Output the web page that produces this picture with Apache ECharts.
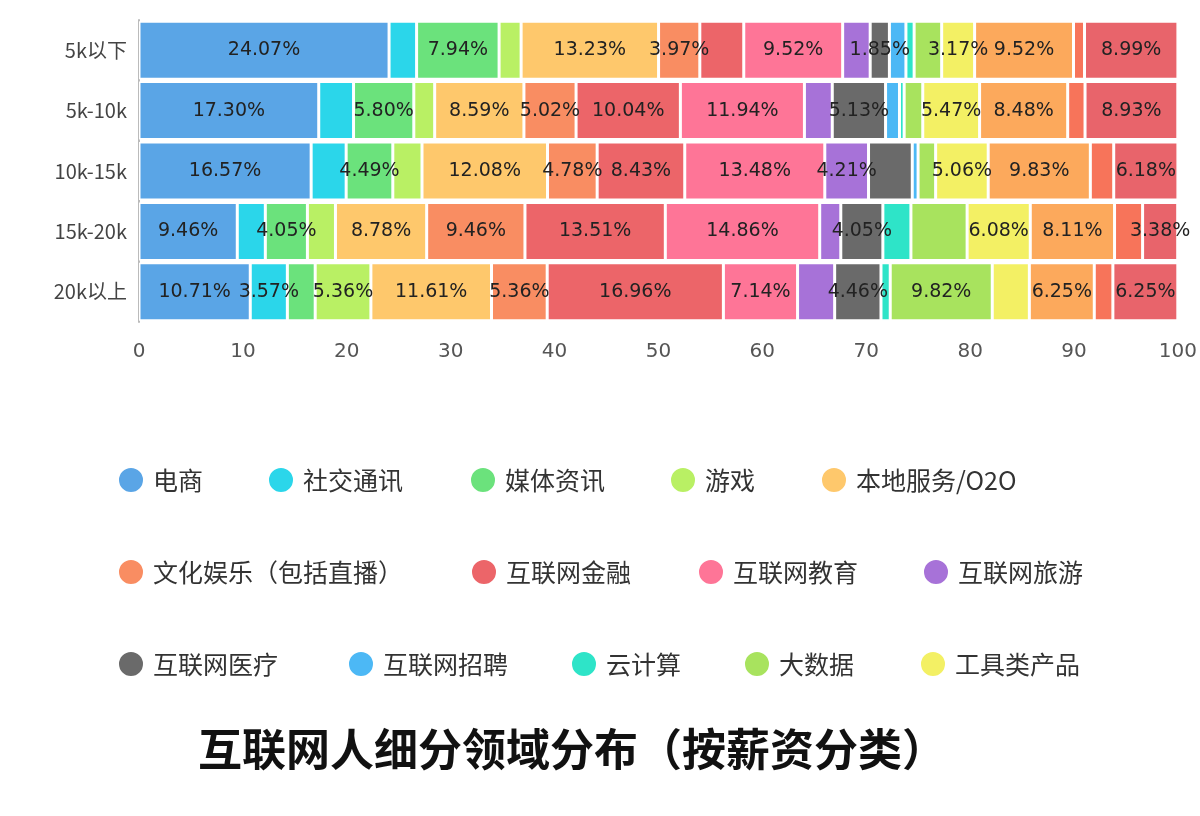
<!DOCTYPE html>
<html>
<head>
<meta charset="utf-8">
<script src="https://cdn.jsdelivr.net/npm/echarts@6/dist/echarts.min.js"></script>
<style>
  html, body { margin: 0; padding: 0; background: #fff; }
  #chart { width: 1200px; height: 816px; }
</style>
</head>
<body>
<div id="chart"></div>
<script>
"use strict";

var categories = ['5k以下', '5k-10k', '10k-15k', '15k-20k', '20k以上'];
var xTicks = [0, 10, 20, 30, 40, 50, 60, 70, 80, 90, 100];

var seriesNames = ['电商', '社交通讯', '媒体资讯', '游戏', '本地服务/O2O', '文化娱乐（包括直播）',
  '互联网金融', '互联网教育', '互联网旅游', '互联网医疗', '互联网招聘', '云计算', '大数据', '工具类产品',
  '其他1', '其他2', '其他3'];

var ecommerce = [24.07, 17.30, 16.57, 9.46, 10.71];
var social = [2.65, 3.35, 3.37, 2.70, 3.57];
var media = [7.94, 5.80, 4.49, 4.05, 2.68];
var games = [2.12, 2.01, 2.81, 2.70, 5.36];
var localO2O = [13.23, 8.59, 12.08, 8.78, 11.61];
var culture = [3.97, 5.02, 4.78, 9.46, 5.36];
var finance = [4.23, 10.04, 8.43, 13.51, 16.96];
var education = [9.52, 11.94, 13.48, 14.86, 7.14];
var travel = [2.65, 2.68, 4.21, 2.03, 3.57];
var medical = [1.85, 5.13, 4.21, 4.05, 4.46];
var recruit = [1.59, 1.34, 0.56, 0, 0];
var cloud = [0.79, 0.45, 0, 2.70, 0.89];
var bigData = [2.65, 1.79, 1.69, 5.41, 9.82];
var tools = [3.17, 5.47, 5.06, 6.08, 3.57];
var otherA = [9.52, 8.48, 9.83, 8.11, 6.25];
var otherB = [1.06, 1.67, 2.25, 2.70, 1.79];
var otherC = [8.99, 8.93, 6.18, 3.38, 6.25];

// which series carry a visible label, per row
var labelledSeries = [
  [0, 2, 4, 5, 7, 9, 13, 14, 16],
  [0, 2, 4, 5, 6, 7, 9, 13, 14, 16],
  [0, 2, 4, 5, 6, 7, 8, 13, 14, 16],
  [0, 2, 4, 5, 6, 7, 9, 13, 14, 16],
  [0, 1, 3, 4, 5, 6, 7, 9, 12, 14, 16]
];

var allValues = [ecommerce, social, media, games, localO2O, culture, finance, education,
  travel, medical, recruit, cloud, bigData, tools, otherA, otherB, otherC];

var colors = ['#5aa5e6', '#2bd6ea', '#6be27c', '#b9f064', '#fec86c', '#f98d62', '#ec6569',
  '#fe7597', '#a772d8', '#6a6a6a', '#4cb8f5', '#2ee4c8', '#a8e35e', '#f3f064',
  '#fca95c', '#f7745a', '#e8646b'];

var legendPos = [
  [112, 461], [262, 461], [464, 461], [664, 461], [815, 461],
  [112, 553], [465, 553], [692, 553], [917, 553],
  [112, 645], [342, 645], [565, 645], [738, 645], [914, 645]
];

var series = [];
for (var i = 0; i < allValues.length; i++) {
  (function(si) {
    series.push({
      name: seriesNames[si],
      type: 'bar',
      stack: 'total',
      barCategoryGap: '4%',
      itemStyle: { color: colors[si], borderColor: '#fff', borderWidth: 1.5 },
      label: {
        show: true,
        position: 'inside',
        color: '#222',
        fontSize: 19,
        padding: [4, 0, 0, 0],
        fontFamily: 'DejaVu Sans, sans-serif',
        formatter: function(p) {
          if (labelledSeries[p.dataIndex].indexOf(si) < 0) return '';
          return p.value.toFixed(2) + '%';
        }
      },
      data: allValues[si]
    });
  })(i);
}

var legends = [];
for (var j = 0; j < 14; j++) {
  legends.push({
    data: [seriesNames[j]],
    left: legendPos[j][0],
    top: legendPos[j][1],
    icon: 'circle',
    itemWidth: 26,
    itemHeight: 26,
    itemGap: 0,
    selectedMode: false,
    textStyle: { fontSize: 25, color: '#333', fontFamily: 'Noto Sans CJK SC', padding: [0, 0, 0, 4] }
  });
}

var chart = echarts.init(document.getElementById('chart'));
chart.setOption({
  animation: false,
  color: colors,
  title: {
    text: '互联网人细分领域分布（按薪资分类）',
    left: 193,
    top: 722,
    textStyle: { fontSize: 44, fontWeight: 'bold', color: '#111', fontFamily: 'Noto Sans CJK SC' }
  },
  legend: legends,
  grid: { left: 139, right: 20, top: 20, height: 302 },
  xAxis: {
    type: 'value',
    min: xTicks[0],
    max: xTicks[xTicks.length - 1],
    interval: 10,
    axisLine: { show: false },
    axisTick: { show: false },
    splitLine: { show: false },
    axisLabel: { fontSize: 20, color: '#555', margin: 20, fontFamily: 'DejaVu Sans' }
  },
  yAxis: {
    type: 'category',
    data: categories,
    inverse: true,
    axisLine: { lineStyle: { color: '#bbb', width: 2 } },
    axisTick: { length: 18, lineStyle: { color: '#bbb', width: 2 } },
    axisLabel: { fontSize: 20, color: '#444', margin: 12, fontFamily: 'Noto Sans CJK SC' }
  },
  series: series
});
</script>
</body>
</html>
